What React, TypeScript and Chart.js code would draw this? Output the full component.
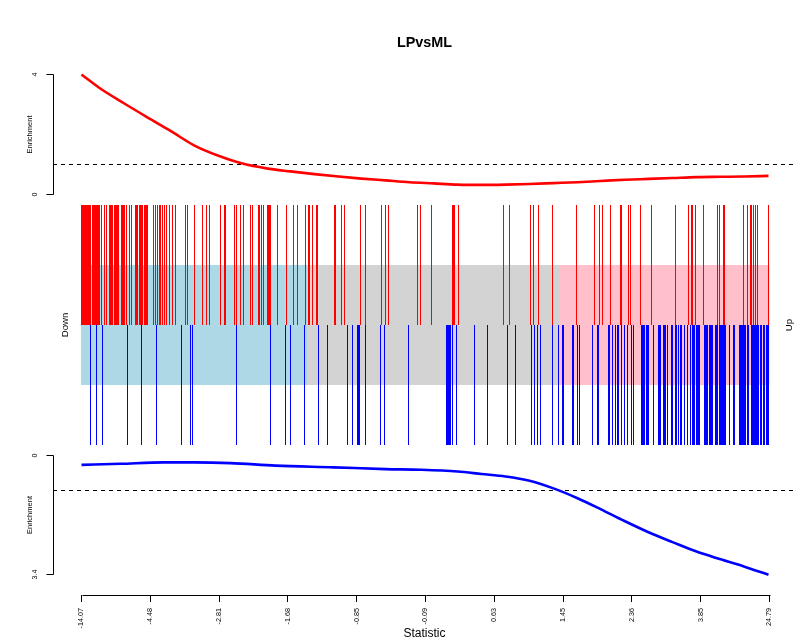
import React, { useEffect, useRef } from "react";
import { Chart, registerables } from "chart.js";

Chart.register(...registerables);

const FONT = "'Liberation Sans', Arial, Helvetica, sans-serif";

const chartTitle = "LPvsML";
const xAxisTitle = "Statistic";
const yAxisTitle = "Enrichment";
const downLabel = "Down";
const upLabel = "Up";

const geneCount = 688;
const xTickLabels = ["-14.07", "-4.48", "-2.81", "-1.68", "-0.85", "-0.09", "0.63", "1.45", "2.36", "3.85", "24.79"];

const upTickValues = [0, 4];
const upTickLabels = ["0", "4"];
const downTickValues = [0, 3.4];
const downTickLabels = ["0", "3.4"];
const enrichmentBaseline = 1;

const redSetRanks = [
  0, 1, 2, 3, 4, 5, 6, 7, 8, 9, 11, 12, 13, 14, 15, 16, 17, 18, 20, 23, 25, 28, 29, 30, 31, 33, 34, 35, 36, 37,
  40, 41, 42, 43, 45, 48, 50, 54, 55, 56, 58, 59, 60, 61, 63, 64, 65, 66, 72, 74, 76, 78, 79, 81, 83, 85, 88, 91,
  94, 104, 106, 113, 121, 125, 128, 139, 143, 144, 153, 155, 159, 162, 169, 171, 177, 178, 180, 182, 186, 187, 188,
  189, 196, 205, 212, 216, 224, 227, 228, 231, 235, 236, 253, 254, 260, 263, 279, 284, 300, 304, 307, 336, 339, 350,
  371, 372, 373, 377, 422, 428, 449, 452, 457, 471, 495, 513, 518, 521, 529, 539, 540, 547, 549, 559, 570, 594, 607,
  610, 611, 614, 622, 636, 638, 642, 643, 662, 666, 669, 670, 672, 674, 676, 687,
];

const blueSetRanks = [
  9, 15, 21, 46, 60, 75, 100, 109, 111, 155, 189, 204, 209, 223, 237, 246, 266, 271, 276, 277, 278, 284, 299, 303,
  327, 365, 366, 367, 368, 369, 371, 375, 393, 406, 426, 434, 450, 453, 456, 459, 471, 477, 481, 482, 491, 492, 496,
  498, 511, 516, 517, 527, 528, 531, 534, 536, 537, 540, 543, 546, 550, 552, 560, 561, 562, 563, 565, 566, 567, 572,
  577, 578, 579, 582, 583, 584, 586, 590, 591, 594, 595, 597, 599, 600, 603, 606, 609, 611, 612, 613, 615, 616, 617,
  618, 623, 624, 625, 626, 628, 629, 630, 631, 634, 635, 636, 638, 639, 640, 641, 642, 643, 644, 648, 652, 653, 658,
  659, 660, 661, 662, 663, 664, 666, 667, 670, 671, 672, 673, 674, 675, 676, 677, 679, 680, 682, 683, 685, 686, 687,
];

const upCurveRanks = [0, 18, 42, 65, 89, 113, 137, 161, 185, 209, 233, 257, 280, 304, 328, 352, 376, 400, 424, 448, 472, 496, 519, 543, 567, 591, 615, 639, 663, 687];
const upCurveEnrichment = [4.0, 3.55, 3.05, 2.59, 2.12, 1.63, 1.29, 1.03, 0.87, 0.77, 0.68, 0.6, 0.53, 0.47, 0.41, 0.37, 0.33, 0.32, 0.33, 0.35, 0.38, 0.41, 0.45, 0.49, 0.52, 0.55, 0.58, 0.59, 0.6, 0.62];

const downCurveRanks = [0, 39, 82, 113, 149, 194, 252, 304, 340, 376, 400, 424, 448, 472, 496, 519, 543, 567, 591, 615, 639, 663, 687];
const downCurveEnrichment = [0.27, 0.24, 0.2, 0.2, 0.22, 0.29, 0.34, 0.39, 0.41, 0.46, 0.53, 0.6, 0.72, 0.94, 1.22, 1.53, 1.87, 2.19, 2.47, 2.74, 2.96, 3.17, 3.4];

const grayBand = [-0.5, 688];
const downBand = [-0.5, 226];
const upBand = [478.5, 688];

const X_MIN = -28.5;
const X_MAX = 714.5;

function vText(ctx: CanvasRenderingContext2D, text: string, x: number, y: number, size: number, weight = "normal") {
  ctx.save();
  ctx.translate(x, y);
  ctx.rotate(-Math.PI / 2);
  ctx.font = `${weight} ${size}px ${FONT}`;
  ctx.textAlign = "center";
  ctx.textBaseline = "middle";
  ctx.fillStyle = "#000";
  ctx.fillText(text, 0, 0);
  ctx.restore();
}

const axisDecor = {
  id: "axisDecor",
  afterDraw(chart: any) {
    const ctx: CanvasRenderingContext2D = chart.ctx;
    const { x, yTop, yMid, yBot } = chart.scales;
    const spineX = chart.chartArea.left + 0.5;
    ctx.save();
    ctx.strokeStyle = "#000";
    ctx.lineWidth = 1;
    ctx.setLineDash([]);
    const drawYAxis = (scale: any, vals: number[], labels: string[]) => {
      const p = vals.map((v) => Math.floor(scale.getPixelForValue(v)) + 0.5);
      ctx.beginPath();
      ctx.moveTo(spineX, p[0]);
      ctx.lineTo(spineX, p[p.length - 1]);
      p.forEach((py) => {
        ctx.moveTo(spineX, py);
        ctx.lineTo(spineX - 7, py);
      });
      ctx.stroke();
      p.forEach((py, i) => vText(ctx, labels[i], 35, py, 7.2));
      vText(ctx, yAxisTitle, 29.5, (p[0] + p[p.length - 1]) / 2, 7.5);
    };
    drawYAxis(yTop, upTickValues, upTickLabels);
    drawYAxis(yBot, downTickValues, downTickLabels);

    const xa = Math.round(x.getPixelForValue(0)) + 0.5;
    const xb = Math.round(x.getPixelForValue(geneCount)) + 0.5;
    const ya = chart.chartArea.bottom + 0.5;
    ctx.beginPath();
    ctx.moveTo(xa, ya);
    ctx.lineTo(xb, ya);
    ctx.stroke();

    const midY = yMid.getPixelForValue(0);
    vText(ctx, downLabel, 65, midY, 9.6);
    vText(ctx, upLabel, 789, midY, 9.6);
    ctx.restore();
  },
};

export default function App() {
  const ref = useRef<HTMLCanvasElement>(null);

  useEffect(() => {
    document.body.style.margin = "0";
    const canvas = ref.current!;
    const xTickPos = xTickLabels.map((_, i) => (i * geneCount) / (xTickLabels.length - 1));

    const band = (range: number[], color: string, order: number) => ({
      type: "line",
      data: [
        { x: range[0], y: 0.5 },
        { x: range[1], y: 0.5 },
      ],
      yAxisID: "yMid",
      xAxisID: "x",
      fill: { value: -0.5 },
      backgroundColor: color,
      borderColor: "rgba(0,0,0,0)",
      borderWidth: 0,
      pointRadius: 0,
      order,
    });

    const bars = (ranks: number[], lo: number, hi: number, color: string) => ({
      type: "bar",
      data: ranks.map((r) => ({ x: r, y: [lo, hi] })),
      yAxisID: "yMid",
      xAxisID: "x",
      backgroundColor: color,
      borderWidth: 0,
      barThickness: 1,
      grouped: false,
      inflateAmount: 0,
      order: 10,
    });

    const curve = (ranks: number[], vals: number[], axis: string, color: string) => ({
      type: "line",
      data: ranks.map((r, i) => ({ x: r, y: vals[i] })),
      yAxisID: axis,
      xAxisID: "x",
      borderColor: color,
      borderWidth: 2.6,
      pointRadius: 0,
      cubicInterpolationMode: "monotone",
      fill: false,
      order: 1,
    });

    const baseline = (axis: string) => ({
      type: "line",
      data: [
        { x: X_MIN, y: enrichmentBaseline },
        { x: X_MAX, y: enrichmentBaseline },
      ],
      yAxisID: axis,
      xAxisID: "x",
      borderColor: "#000",
      borderWidth: 1,
      borderDash: [4, 4],
      pointRadius: 0,
      fill: false,
      order: 3,
    });

    const hiddenY = (extra: any) => ({
      type: "linear",
      position: "left",
      stack: "main",
      display: true,
      ticks: { display: false },
      grid: { display: false },
      border: { display: false },
      afterFit: (s: any) => {
        s.width = 53;
      },
      ...extra,
    });

    const chart = new Chart(canvas, {
      type: "line",
      data: {
        datasets: [
          band(grayBand, "#d3d3d3", 20),
          band(downBand, "#add8e6", 19),
          band(upBand, "#ffc0cb", 18),
          bars(redSetRanks, 0, 1, "#ff0000"),
          bars(blueSetRanks, -1, 0, "#0000ff"),
          baseline("yTop"),
          baseline("yBot"),
          curve(upCurveRanks, upCurveEnrichment, "yTop", "#ff0000"),
          curve(downCurveRanks, downCurveEnrichment, "yBot", "#0000ff"),
        ] as any,
      },
      options: {
        responsive: false,
        animation: false,
        events: [],
        layout: { padding: { left: 0, right: 10, top: 0, bottom: 0 } },
        plugins: {
          legend: { display: false },
          tooltip: { enabled: false },
          title: {
            display: true,
            text: chartTitle,
            fullSize: false,
            color: "#000",
            font: { family: FONT, size: 14.4, weight: "bold" },
            padding: { top: 34, bottom: 10.72 },
          },
        },
        scales: {
          x: {
            type: "linear",
            position: "bottom",
            min: X_MIN,
            max: X_MAX,
            offset: false,
            afterBuildTicks: (s: any) => {
              s.ticks = xTickPos.map((v) => ({ value: v }));
            },
            afterFit: (s: any) => {
              s.height = 48;
            },
            ticks: {
              autoSkip: false,
              minRotation: 90,
              maxRotation: 90,
              padding: 6,
              color: "#000",
              font: { family: FONT, size: 7.2 },
              callback: (_v: any, i: number) => xTickLabels[i],
            },
            grid: { display: true, drawOnChartArea: false, drawTicks: true, tickLength: 7, color: "#000", offset: false },
            border: { display: false },
            title: {
              display: true,
              text: xAxisTitle,
              color: "#000",
              font: { family: FONT, size: 12 },
              padding: { top: 0, bottom: 2 },
            },
          },
          yTop: hiddenY({ weight: 3, stackWeight: 138, min: -5.5 / 30, max: 132.5 / 30 }),
          yMid: hiddenY({ weight: 2, stackWeight: 250, min: -250 / 240, max: 250 / 240 }),
          yBot: hiddenY({ weight: 1, stackWeight: 145, reverse: true, min: -5.4 / 35.1, max: 139.6 / 35.1 }),
        } as any,
      },
      plugins: [axisDecor],
    } as any);

    return () => chart.destroy();
  }, []);

  return <canvas ref={ref} width={806} height={643} style={{ display: "block" }} />;
}
